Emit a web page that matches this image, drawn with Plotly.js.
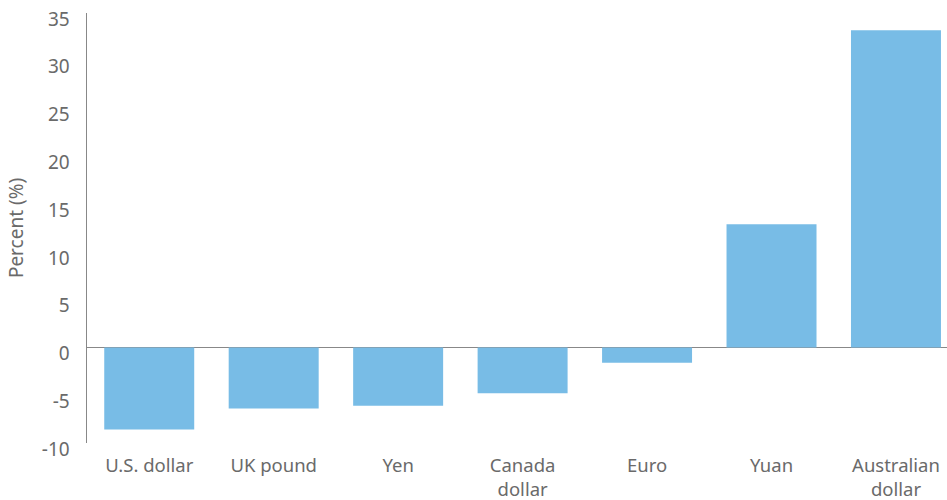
<!DOCTYPE html>
<html>
<head>
<meta charset="utf-8">
<script src="https://cdn.plot.ly/plotly-3.0.1.min.js"></script>
<style>
  html, body { margin: 0; padding: 0; background: #fff; }
  #chart { width: 947px; height: 500px; }
</style>
</head>
<body>
<div id="chart"></div>
<script>
const categories = ["U.S. dollar", "UK pound", "Yen", "Canada<br>dollar", "Euro", "Yuan", "Australian<br>dollar"];
const values = [-8.6, -6.4, -6.1, -4.8, -1.6, 12.9, 33.2];
const yTickVals = [-10, -5, 0, 5, 10, 15, 20, 25, 30, 35];

const textColor = "#6a6a6a";
const fontFamily = "'Noto Sans', 'Open Sans', sans-serif";
const fontSize = 19;

const trace = {
  type: "bar",
  x: categories,
  y: values,
  marker: { color: "#78BCE6" },
  hoverinfo: "x+y"
};

const layout = {
  width: 947,
  height: 500,
  margin: { l: 87, r: 0, t: 13, b: 57 },
  paper_bgcolor: "#ffffff",
  plot_bgcolor: "#ffffff",
  bargap: 0.277,
  showlegend: false,
  font: { family: fontFamily, size: fontSize, color: textColor },
  xaxis: {
    type: "category",
    range: [-0.5, 6.41],
    showgrid: false,
    showline: false,
    zeroline: false,
    ticks: "",
    ticklabelstandoff: 9,
    tickfont: { family: fontFamily, size: 18.5, color: textColor },
    fixedrange: true
  },
  yaxis: {
    range: [-10, 35],
    tickvals: yTickVals,
    ticktext: yTickVals.map(String),
    showgrid: false,
    showline: true,
    linecolor: "#888888",
    linewidth: 1.5,
    zeroline: true,
    zerolinecolor: "#888888",
    zerolinewidth: 1.5,
    ticks: "",
    ticklabelstandoff: 12,
    ticklabelshift: 6,
    tickfont: { family: fontFamily, size: fontSize, color: textColor },
    title: { text: "Percent (%)", font: { family: fontFamily, size: fontSize, color: textColor }, standoff: 13 },
    fixedrange: true
  }
};

Plotly.newPlot("chart", [trace], layout, { displayModeBar: false, staticPlot: true });
</script>
</body>
</html>
